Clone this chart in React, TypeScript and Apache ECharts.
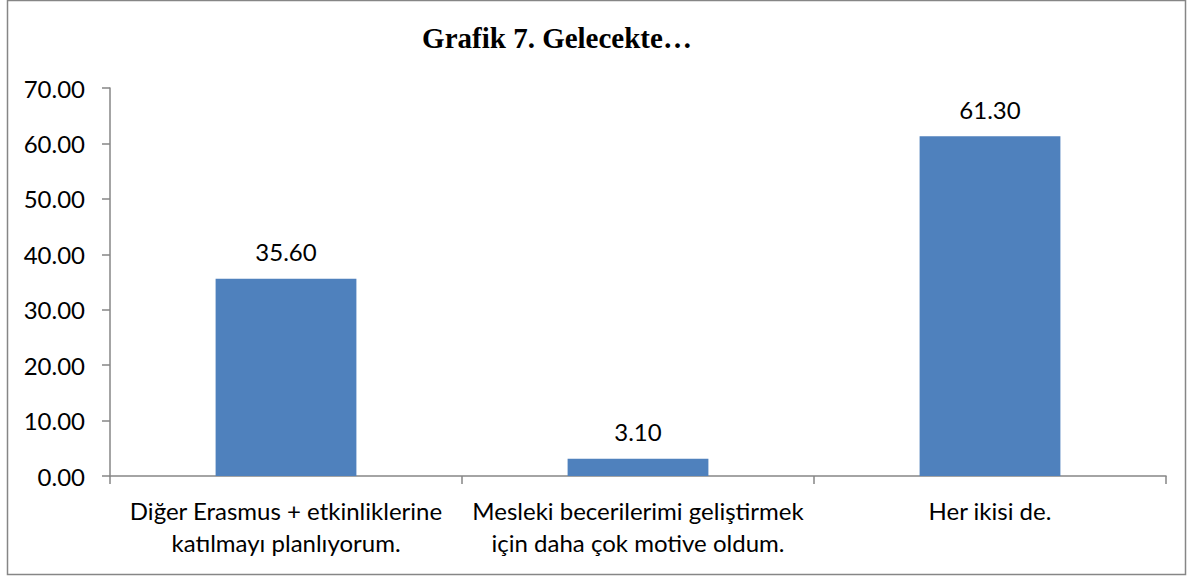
import React, { useEffect, useRef } from "react";
import * as echarts from "echarts";

const titleText = "Grafik 7. Gelecekte…";
const categories = [
  "Diğer Erasmus + etkinliklerine\nkatılmayı planlıyorum.",
  "Mesleki becerilerimi geliştirmek\niçin daha çok motive oldum.",
  "Her ikisi de.",
];
const values = [35.6, 3.1, 61.3];
const yMin = 0;
const yMax = 70;
const yInterval = 10;

const FONT = "Lato";

export default function App() {
  const ref = useRef<HTMLDivElement>(null);
  useEffect(() => {
    document.body.style.margin = "0";
    const chart = echarts.init(ref.current!, null, { renderer: "svg" });
    chart.setOption({
      animation: false,
      backgroundColor: "#ffffff",
      graphic: [
        {
          type: "rect",
          shape: { x: 7.5, y: 0.5, width: 1178, height: 574 },
          style: { fill: "none", stroke: "#868686", lineWidth: 1.5 },
          silent: true,
        },
        {
          type: "text",
          x: 557,
          y: 38,
          style: {
            text: titleText,
            font: "bold 29px 'Liberation Serif', 'Times New Roman', serif",
            fill: "#000",
            align: "center",
            verticalAlign: "middle",
          },
        },
      ],
      grid: { left: 110, right: 26, top: 88, bottom: 102, containLabel: false },
      xAxis: {
        type: "category",
        data: categories,
        axisLine: { show: true, lineStyle: { color: "#868686", width: 1.5 } },
        axisTick: { show: true, length: 8, alignWithLabel: false, lineStyle: { color: "#868686", width: 1.5 } },
        axisLabel: {
          interval: 0,
          margin: 18,
          color: "#000",
          fontFamily: FONT,
          fontSize: 24,
          lineHeight: 32,
        },
        splitLine: { show: false },
      },
      yAxis: {
        type: "value",
        min: yMin,
        max: yMax,
        interval: yInterval,
        axisLine: { show: true, lineStyle: { color: "#868686", width: 1.5 } },
        axisTick: { show: true, length: 8, lineStyle: { color: "#868686", width: 1.5 } },
        axisLabel: {
          margin: 25,
          color: "#000",
          fontFamily: FONT,
          fontSize: 24,
          formatter: (v: number) => v.toFixed(2),
        },
        splitLine: { show: false },
      },
      series: [
        {
          type: "bar",
          data: values,
          barWidth: "40%",
          itemStyle: { color: "#4F81BD" },
          label: {
            show: true,
            position: "top",
            distance: 15,
            color: "#000",
            fontFamily: FONT,
            fontSize: 24,
            formatter: (p: any) => Number(p.value).toFixed(2),
          },
        },
      ],
    });
    return () => chart.dispose();
  }, []);
  return <div ref={ref} style={{ width: 1192, height: 578 }} />;
}
